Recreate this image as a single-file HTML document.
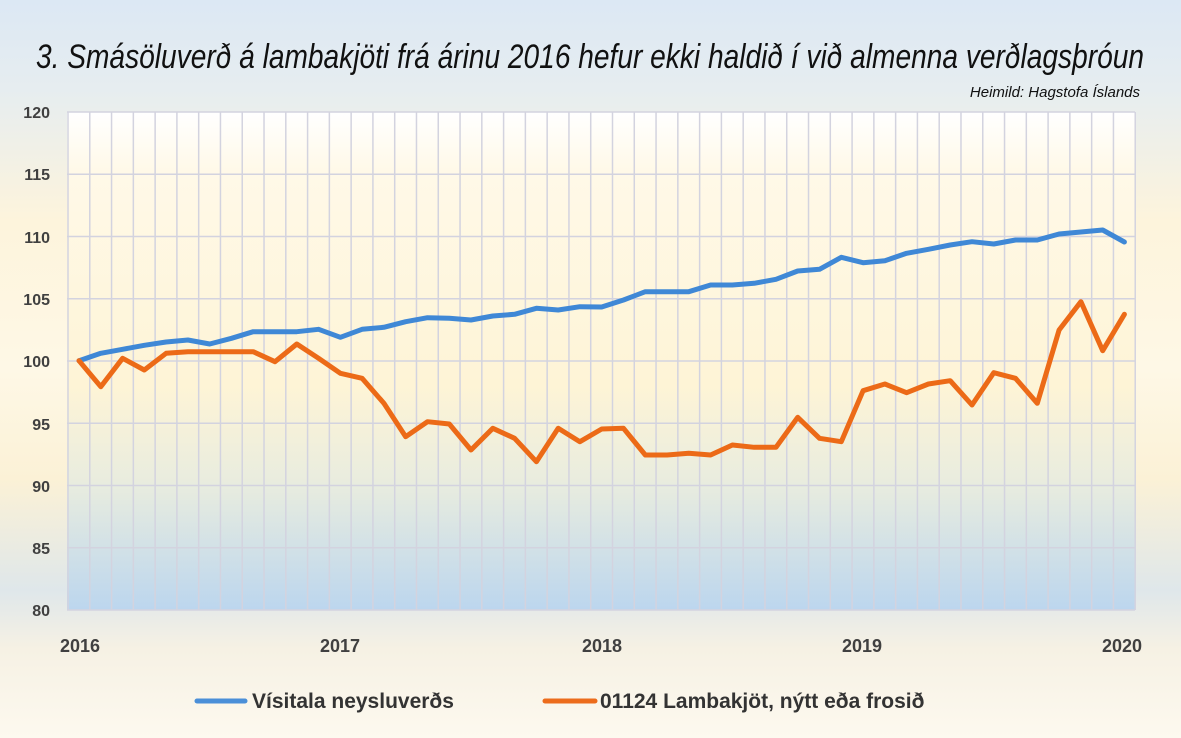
<!DOCTYPE html>
<html><head><meta charset="utf-8"><style>
html,body{margin:0;padding:0;width:1181px;height:738px;overflow:hidden}
body{background:linear-gradient(180deg,#dce8f4 0%,#e6edf0 12%,#fdf4dc 30%,#fef8e6 50%,#fbf1d6 65%,#dfe7ea 80%,#f6f1e4 88%,#fdf9ef 100%)}
svg text{font-family:"Liberation Sans Narrow","Liberation Sans",sans-serif}
</style></head><body>
<svg width="1181" height="738" viewBox="0 0 1181 738" xmlns="http://www.w3.org/2000/svg">
<defs>
<linearGradient id="pg" x1="0" y1="0" x2="0" y2="1">
<stop offset="0" stop-color="#ffffff"/>
<stop offset="0.12" stop-color="#fff9e8"/>
<stop offset="0.55" stop-color="#fef4d6"/>
<stop offset="0.75" stop-color="#e8ecdf"/>
<stop offset="1" stop-color="#bcd6ee"/>
</linearGradient>
</defs>
<rect x="67" y="112" width="1068" height="498" fill="url(#pg)"/>
<g id="grid" stroke="#d3d3df" stroke-width="1.5"></g>
<text x="590" y="68" font-size="34" font-style="italic" text-anchor="middle" textLength="1108" lengthAdjust="spacingAndGlyphs" fill="#111">3. Smásöluverð á lambakjöti frá árinu 2016 hefur ekki haldið í við almenna verðlagsþróun</text>
<text x="1140" y="97" font-size="15" font-style="italic" text-anchor="end" fill="#111">Heimild: Hagstofa Íslands</text>
<g font-size="16" fill="#404040" text-anchor="end" font-weight="bold">
<text x="50" y="118">120</text><text x="50" y="180">115</text><text x="50" y="243">110</text><text x="50" y="305">105</text><text x="50" y="367">100</text><text x="50" y="430">95</text><text x="50" y="492">90</text><text x="50" y="554">85</text><text x="50" y="616">80</text>
</g>
<g font-size="18" fill="#404040" text-anchor="middle" font-weight="bold">
<text x="80" y="652">2016</text><text x="340" y="652">2017</text><text x="602" y="652">2018</text><text x="862" y="652">2019</text><text x="1122" y="652">2020</text>
</g>
<line x1="197" y1="701" x2="245" y2="701" stroke="#4a8fd8" stroke-width="5" stroke-linecap="round"/>
<text x="252" y="708" font-size="21" fill="#333" font-weight="bold">Vísitala neysluverðs</text>
<line x1="545" y1="701" x2="595" y2="701" stroke="#ec6c1c" stroke-width="5" stroke-linecap="round"/>
<text x="600" y="708" font-size="21" fill="#333" font-weight="bold">01124 Lambakjöt, nýtt eða frosið</text>
<polyline id="blue" fill="none" stroke="#3f88d6" stroke-width="5" stroke-linejoin="round" stroke-linecap="round"/>
<polyline id="org" fill="none" stroke="#ec6a17" stroke-width="5" stroke-linejoin="round" stroke-linecap="round"/>
</svg>
<script>
var g=document.getElementById('grid'),s='';
for(var k=0;k<=49;k++){var x=68+k*21.78;s+='<line x1="'+x+'" y1="112" x2="'+x+'" y2="610"/>';}
for(var j=0;j<=8;j++){var y=112+j*62.25;s+='<line x1="67" y1="'+y+'" x2="1135" y2="'+y+'"/>';}
g.innerHTML=s;
var B=[360.7,353.3,349.3,345.3,342,340,344,338.3,331.7,331.7,331.7,329.3,337.3,329.3,327.3,321.7,317.7,318.3,320,316,314.3,308.3,310,306.7,307,300,291.7,291.7,291.7,285,285,283.3,279.3,271,269.3,257.3,262.7,260.7,253.3,249.3,245,241.7,244,240,240,234,232,230,242];
var O=[360.7,386.7,358.3,370,353.3,351.7,351.7,351.7,351.7,361.7,344,358.3,373.3,378.3,403.3,436.7,421.7,424,450,428.3,438.3,461.7,428.3,441.7,429,428.3,455,455,453.3,455,445,447.3,447.3,417.3,438.3,441.7,390.7,384,392.7,384,380.7,405,372.7,378.3,403.3,330,301.7,350.7,314.3];
function pts(a){return a.map(function(v,i){return (79+i*21.78).toFixed(1)+','+v}).join(' ');}
document.getElementById('blue').setAttribute('points',pts(B));
document.getElementById('org').setAttribute('points',pts(O));
</script>
</body></html>
